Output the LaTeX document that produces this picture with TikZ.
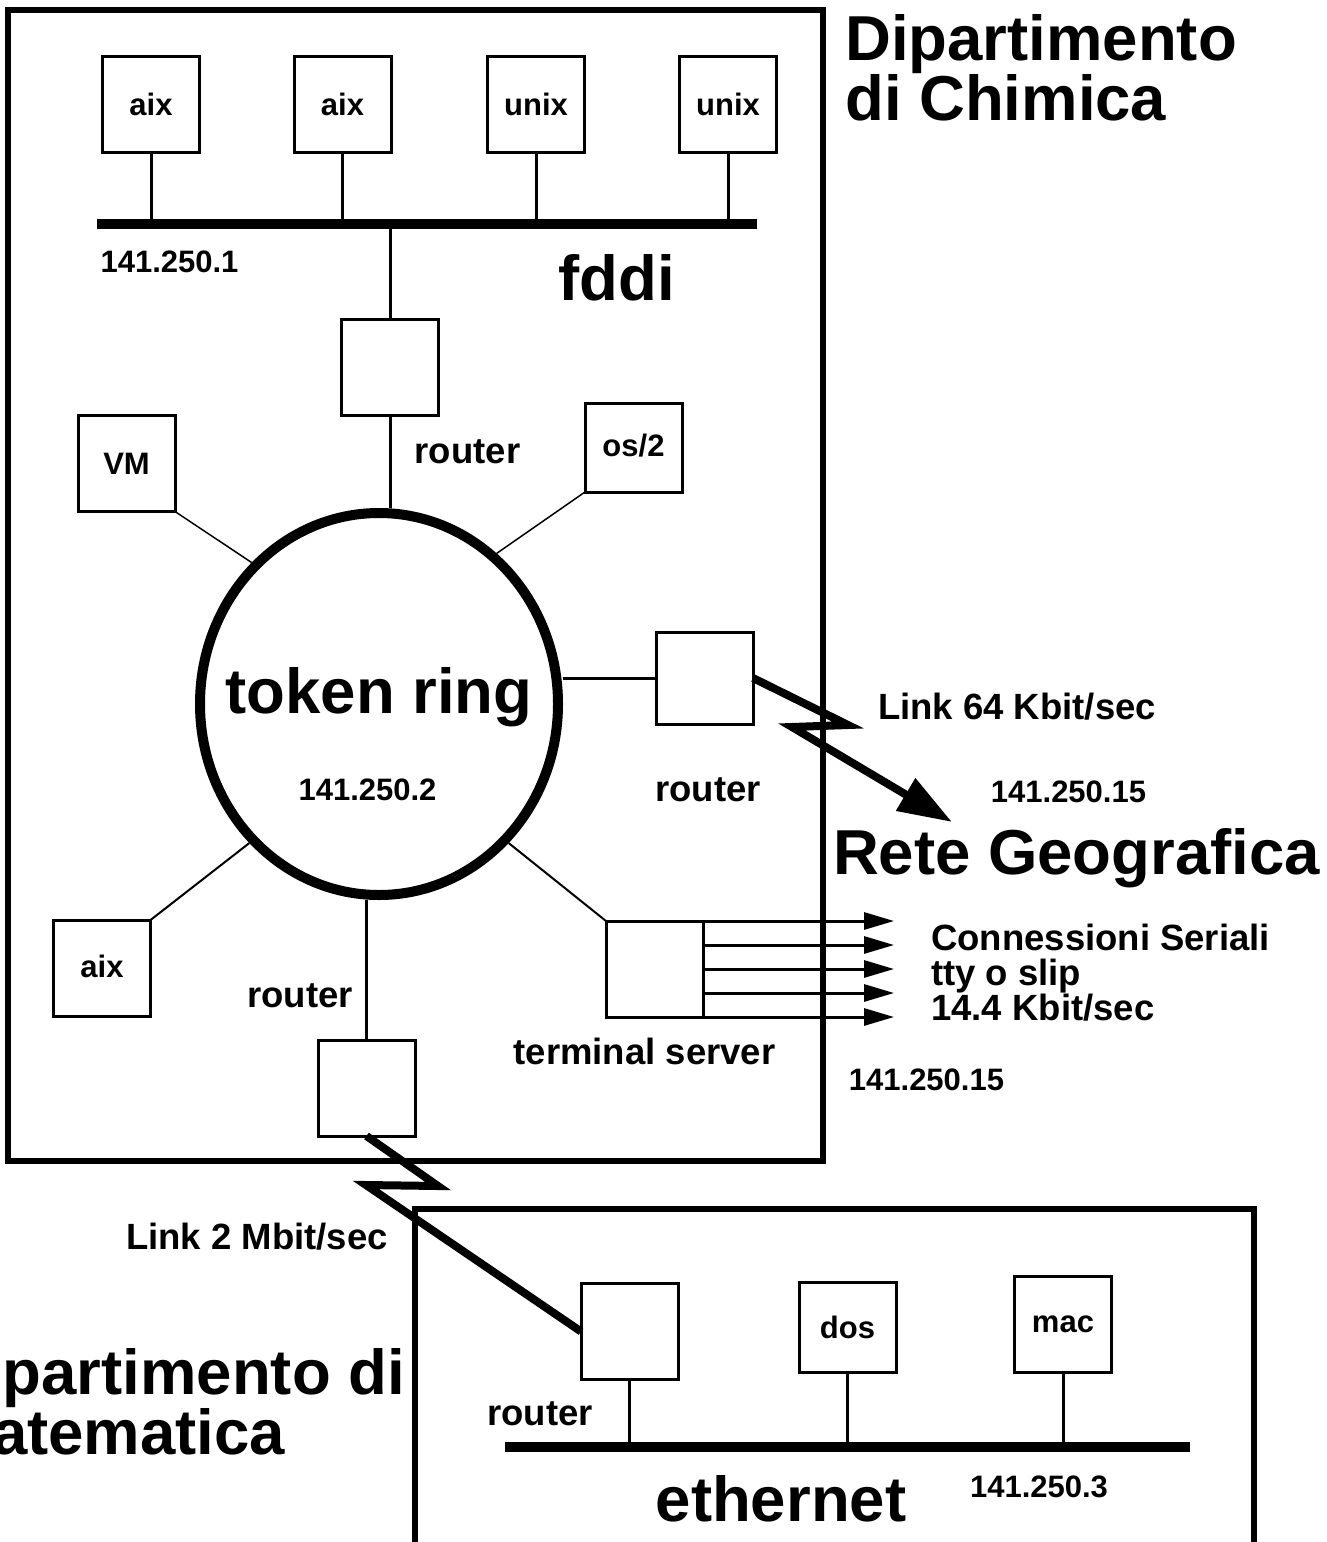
\documentclass[tikz,border=0pt]{standalone}
\usepackage{fontspec}
\setmainfont{Liberation Sans}
\usepackage{tikz}
\usetikzlibrary{shapes.geometric,arrows.meta}

\begin{document}
\begin{tikzpicture}[x=1pt, y=-1pt,
    host/.style={draw, line width=3pt, outer sep=0pt, inner sep=0pt,
      minimum width=97pt, minimum height=96pt,
      font=\fontsize{31}{33}\selectfont\bfseries},
    tokenring/.style={ellipse, draw, line width=10pt, inner sep=0pt,
      minimum width=358pt, minimum height=382pt},
    lbl/.style={inner sep=0pt, anchor=base, font=\fontsize{31}{33}\selectfont\bfseries},
    note/.style={inner sep=0pt, anchor=base, font=\fontsize{36.5}{35}\selectfont\bfseries},
    heading/.style={inner sep=0pt, anchor=base, font=\fontsize{63.5}{60}\selectfont\bfseries},
    wire/.style={line width=3pt},
    spoke/.style={line width=1.5pt},
    bus/.style={line width=10pt},
    frame/.style={line width=6pt},
    link/.style={line width=8pt, line join=miter},
    serial/.style={line width=3pt, -{Triangle[length=30pt,width=17pt]}}]
  \useasboundingbox (0,0) rectangle (1326,1542);
  \clip (0,0) rectangle (1326,1542);
  % Frames
  \draw[frame] (8,10) rectangle (823,1161);
  \draw[frame] (415,1209) rectangle (1254,1580);
  % Nodes
  \node[host] (aix1) at (151,104) {aix};
  \node[host] (aix2) at (342.5,104) {aix};
  \node[host] (unix1) at (536,104) {unix};
  \node[host] (unix2) at (728,104) {unix};
  \coordinate (fddiL) at (97,224);
  \coordinate (fddiR) at (757,224);
  \node[host] (rtop) at (390,367.5) {};
  \node[host] (vm) at (126.5,463.5) {VM};
  \node[host, minimum height=89pt] (os2) at (633.5,447.5) {\raisebox{5pt}{os/2}};
  \node[tokenring] (tr) at (379,704) {};
  \node[host, minimum height=92pt] (rright) at (704.5,678) {};
  \node[host] (aix3) at (102,968) {\raisebox{4pt}{aix}};
  \node[host] (ts) at (654.5,969) {};
  \node[host] (rbot) at (366.5,1088) {};
  \node[host] (reth) at (629.5,1331.5) {};
  \node[host, minimum height=90pt] (dos) at (847.5,1327) {dos};
  \node[host] (mac) at (1063,1324) {mac};
  \coordinate (ethL) at (505,1447);
  \coordinate (ethR) at (1190,1447);
  \coordinate (wan1) at (848,725);
  \coordinate (wan2) at (792,727);
  \coordinate (wanTip) at (952,822);
  \coordinate (lan1) at (438,1186);
  \coordinate (lan2) at (366,1185);
  \coordinate (ser) at (894,969);
  % Labels
  \node[heading, anchor=north west, align=left] (chim) at (845,14) {Dipartimento\\di Chimica};
  \node[lbl] (ip1) at (169.5,272) {141.250.1};
  \node[heading] (fddi) at (616.5,300) {fddi};
  \node[note] (lrtop) at (467.5,463) {router};
  \node[heading] (trlbl) at (379,713) {token ring};
  \node[lbl] (ip2) at (367.5,800) {141.250.2};
  \node[note] (lrright) at (708,801) {router};
  \node[note] (l64) at (1017,719) {Link 64 Kbit/sec};
  \node[lbl] (ip15a) at (1068.5,802) {141.250.15};
  \node[heading] (geo) at (1076.5,874) {Rete Geografica};
  \node[note, anchor=north west, align=left] (serlbl) at (931,924) {Connessioni Seriali\\tty o slip\\14.4 Kbit/sec};
  \node[note] (lrbot) at (300,1007) {router};
  \node[note] (lts) at (644.5,1064) {terminal server};
  \node[lbl] (ip15b) at (926.5,1090) {141.250.15};
  \node[note] (l2) at (257,1249) {Link 2 Mbit/sec};
  \node[heading, anchor=north west, align=left] (mat) at (-61,1348) {Dipartimento di\\Matematica};
  \node[note] (lreth) at (540,1425) {router};
  \node[lbl] (ip3) at (1039,1497) {141.250.3};
  \node[heading] (eth) at (781,1521) {ethernet};
  % Edges
  \draw[bus] (fddiL) -- (fddiR);
  \foreach \h in {aix1,aix2,unix1,unix2}
    \draw[wire] (\h.south) -- (\h.south |- fddiL);
  \draw[wire] (rtop.north) -- (rtop.north |- fddiL);
  \draw[wire] (rtop.south) -- (rtop.south |- tr.north);
  \draw[spoke] (vm.south east) -- (tr.132);
  \draw[spoke] (os2.south west) -- (tr.52);
  \draw[wire] (rright.west) -- (rright.west -| tr.east);
  \draw[spoke, line width=2pt] (aix3.north east) -- (tr.227);
  \draw[spoke, line width=2pt] (ts.north west) -- (tr.313);
  \draw[wire] (rbot.north) -- (rbot.north |- tr.south);
  \foreach \dy in {48,24,0,-24,-48}
    \draw[serial] ([yshift=\dy pt]ts.east) -- ([yshift=\dy pt]ser);
  \draw[link, -{Triangle[length=54pt,width=36pt]}] (rright.east) -- (wan1) -- (wan2) -- (wanTip);
  \draw[link] (rbot.south) -- (lan1) -- (lan2) -- (reth.west);
  \draw[bus] (ethL) -- (ethR);
  \foreach \h in {reth,dos,mac}
    \draw[wire] (\h.south) -- (\h.south |- ethL);
\end{tikzpicture}
\end{document}
